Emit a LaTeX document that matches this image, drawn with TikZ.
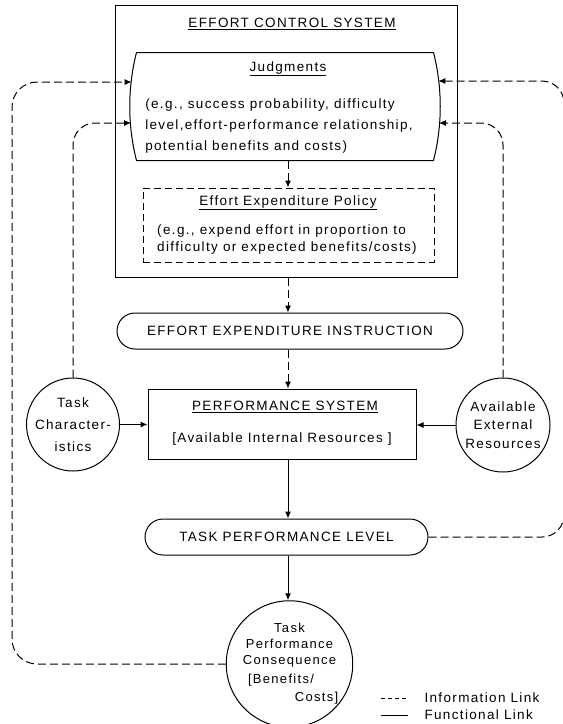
\documentclass[tikz,border=0pt]{standalone}
\usepackage{fontspec}
\setmainfont[LetterSpace=10]{Liberation Sans}
\usetikzlibrary{arrows.meta,calc}

\begin{document}
\begin{tikzpicture}[x=1pt,y=-1pt,line width=1pt,
  every node/.style={font=\fontsize{13.5}{18}\selectfont,inner sep=0pt},
  info/.style={dash pattern=on 8pt off 4pt,-{Latex[length=7pt,width=6pt]}},
  func/.style={-{Latex[length=7pt,width=6pt]}},
  res/.style={circle,draw,align=center}]
\useasboundingbox (0,0) rectangle (563,724);

% effort control system
\node (ECS) at (286,141) [rectangle,draw,minimum width=342pt,minimum height=272pt] {};
\node (ECST) at (292,24) {\underline{EFFORT CONTROL SYSTEM}};

\node (J) at (285,106.5) [minimum width=296pt,minimum height=107pt] {};
\draw (J.north west) -- (J.north east) .. controls +(9,35) and +(9,-35) .. (J.south east)
  -- (J.south west) .. controls +(-9,-35) and +(-9,35) .. (J.north west) -- cycle;
\node (JT) at (288,69) {\underline{Judgments}};
\node (JX) at (279,126) [align=left,font=\fontsize{13.5}{21}\selectfont]
  {(e.g., success probability, difficulty\\level,effort-performance relationship,\\potential benefits and costs)};
\coordinate (JL1) at (131.7,82);
\coordinate (JL2) at (131,123);
\coordinate (JR1) at (438.3,81);
\coordinate (JR2) at (439,123);

\node (P) at (288.5,225) [rectangle,draw,dash pattern=on 7pt off 4pt,minimum width=291pt,minimum height=74pt] {};
\node (PT) at (288,203) {\underline{Effort Expenditure Policy}};
\node (PX) at (287,239.5) [align=left,font=\fontsize{13.5}{17}\selectfont]
  {(e.g., expend effort in proportion to\\difficulty or expected benefits/costs)};

% performance side
\node (I) at (290,331) [rectangle,draw,rounded corners=18pt,minimum width=346pt,minimum height=36pt] {EFFORT EXPENDITURE INSTRUCTION};
\node (PS) at (282,424) [rectangle,draw,minimum width=268pt,minimum height=70pt] {};
\node (PST) at (285,407) {\underline{PERFORMANCE SYSTEM}};
\node (PSX) at (282,439) {[Available Internal Resources ]};
\node (TC) at (73,424.5) [res,minimum size=92pt,font=\fontsize{13.5}{22}\selectfont] {Task\\Character-\\istics};
\node (AER) at (503,425) [res,minimum size=94pt,font=\fontsize{13.5}{18.5}\selectfont] {Available\\External\\Resources};
\node (TPL) at (286.5,537) [rectangle,draw,rounded corners=18pt,minimum width=283pt,minimum height=36pt] {TASK PERFORMANCE LEVEL};
\node (TPC) at (289.5,664) [res,minimum size=115pt,font=\fontsize{13}{16}\selectfont]
  {Task\\Performance\\Consequence\\[3pt]\hspace*{-17pt}[Benefits/\\[2pt]\hspace*{54pt}Costs]};

% legend
\node (IL) at (424,698) [anchor=west] {Information Link};
\node (FL) at (424,715) [anchor=west] {Functional Link};
\draw [dash pattern=on 4pt off 3pt] ($(IL.west)+(-43,0)$) -- ++(27,0);
\draw ($(FL.west)+(-43,0)$) -- ++(27,0);

% links
\draw [info] (PT |- J.south) -- (PT |- P.north);
\draw [info] (PT |- ECS.south) -- (PT |- I.north);
\draw [info] (PT |- I.south) -- (PT |- PS.north);
\draw [func] (PT |- PS.south) -- (PT |- TPL.north);
\draw [func] (PT |- TPL.south) -- (PT |- TPC.north);
\draw [func] (TC.east) -- (TC.east -| PS.west);
\draw [func] (AER.west) -- (AER.west -| PS.east);

\draw [info,rounded corners=22pt] (TC.north) |- (JL2);
\draw [info,rounded corners=22pt] (AER.north) |- (JR2);
\coordinate (OL) at (12,400);
\coordinate (OR) at (564,300);
\draw [info,rounded corners=25pt] (TPC.west) -| (OL) |- (JL1);
\draw [info,rounded corners=22pt] (TPL.east) -| (OR) |- (JR1);
\end{tikzpicture}
\end{document}
